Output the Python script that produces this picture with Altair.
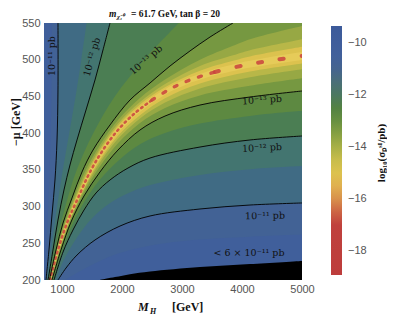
import altair as alt
import pandas as pd

# ---------------- values ----------------
# Level curves of log10(sigma_p^SI/pb) : M_H [GeV] and -mu [GeV]
# below the blind-spot ridge
LO_145_M = [810, 933, 1000, 1150, 1367, 1633, 1933, 2300, 2717, 3300, 4133, 5000]
LO_145_MU = [200, 237.0, 253.7, 286.8, 325.0, 363.4, 396.4, 424.4, 447.5, 467.6, 484.0, 495.0]
LO_140_M = [815, 933, 1000, 1150, 1367, 1633, 1933, 2300, 2717, 3300, 4133, 5000]
LO_140_MU = [200, 234.9, 251.8, 285.2, 322.8, 360.0, 392.3, 420.1, 441.6, 460.9, 476.2, 487.1]
LO_135_M = [822, 933, 1000, 1150, 1367, 1633, 1933, 2300, 2717, 3300, 4133, 5000]
LO_135_MU = [200, 231.9, 249.0, 282.7, 319.5, 354.9, 386.3, 413.9, 434.4, 451.4, 464.4, 474.6]
LO_130_M = [833, 983, 1150, 1367, 1633, 1933, 2300, 2717, 3300, 4133, 5000]
LO_130_MU = [200, 240.9, 279.0, 314.4, 347.1, 377.0, 404.3, 423.3, 438.3, 449.2, 457.4]
LO_125_M = [850, 1000, 1150, 1367, 1633, 1933, 2300, 2717, 3300, 4133, 5000]
LO_125_MU = [200, 240.0, 271.6, 306.0, 336.7, 362.2, 384.8, 400.1, 413.1, 423.5, 430.4]
LO_120_M = [867, 1017, 1183, 1367, 1567, 1800, 2100, 2467, 3300, 4133, 5000]
LO_120_MU = [200, 238.1, 268.1, 295.3, 318.5, 336.2, 352.5, 366.1, 381.1, 390.7, 396.1]
LO_115_M = [900, 1000, 1150, 1367, 1633, 1933, 2300, 2717, 3300, 4133, 5000]
LO_115_MU = [200, 222.2, 245.1, 271.3, 294.2, 311.3, 325.1, 334.3, 343.1, 350.8, 355.1]
LO_110_M = [933, 1067, 1250, 1550, 1967, 2467, 3300, 4133, 5000]
LO_110_MU = [200, 216.3, 234.0, 254.5, 273.5, 287.2, 296.7, 302.1, 304.9]
LO_105_M = [1050, 1150, 1367, 1633, 1933, 2300, 2717, 3300, 4133, 5000]
LO_105_MU = [200, 205, 215, 226, 236, 244, 250, 255, 259, 262]

# above the ridge, close to it
UP_145_M = [700, 798, 933, 1000, 1150, 1367, 1633, 1933, 2300, 2717, 3300, 3850, 4133, 5000]
UP_145_MU = [200, 200, 243.9, 261.7, 295.2, 336.1, 376.2, 410.2, 439.0, 462.5, 485.0, 498.5, 504.5, 517.5]
UP_140_M = [700, 797, 933, 1000, 1150, 1367, 1633, 1933, 2300, 2717, 3300, 3850, 4133, 5000]
UP_140_MU = [200, 200, 245.4, 263.9, 297.8, 339.6, 379.3, 413.3, 442.5, 467.0, 491.5, 506.0, 513.0, 528.0]
UP_135_M = [700, 795, 933, 1000, 1150, 1367, 1633, 1933, 2300, 2717, 3300, 3850, 4133, 5000]
UP_135_MU = [200, 200, 247.7, 267.2, 301.7, 344.7, 383.9, 417.8, 448.0, 473.0, 500.0, 519.0, 528.0, 546.0]

# upper-left side (steep curves)
UP_130_M = [792, 900, 1017, 1167, 1333, 1517, 1800, 2133, 2467, 2800, 3133, 3467, 3850]
UP_130_MU = [200, 240.9, 277.6, 311.7, 347.1, 377.0, 411.1, 445.1, 468.3, 491.4, 511.9, 530.9, 550]
UP_125_M = [780, 902, 1055, 1247, 1521, 1880, 2368, 2948]
UP_125_MU = [200, 250, 300, 350, 400, 450, 500, 550]
UP_120_M = [767, 850, 933, 1033, 1133, 1250, 1400, 1550, 1683, 1800]
UP_120_MU = [200, 240.9, 281.7, 322.6, 356.6, 390.7, 431.5, 472.4, 513.2, 550]
UP_115_M = [750, 834, 918, 1014, 1120, 1226, 1322, 1410]
UP_115_MU = [200, 250, 300, 350, 400, 450, 500, 550]
UP_110_M = [733, 783, 833, 883, 917, 933, 933]
UP_110_MU = [200, 240.9, 288.5, 336.2, 390.7, 458.8, 550]
UP_105_M = [712, 742, 770, 795, 812, 822, 828, 830]
UP_105_MU = [200, 250, 300, 350, 400, 450, 500, 550]

RIDGE_LEVEL = -15.0

# blind-spot ridge
RIDGE_M = [800, 933, 1083, 1267, 1467, 1683, 1933, 2217, 2500, 2800, 3133, 3550, 4050, 4550, 5000]
RIDGE_MU = [200, 240.9, 277.6, 311.7, 347.1, 377.0, 404.3, 427.4, 445.1, 460.1, 472.4, 483.3, 492.8, 499.6, 505.1]

# excluded region boundary (< 6 x 10^-11 pb)
EXCL_M = [1633, 1883, 2133, 2467, 3300, 4133, 5000]
EXCL_MU = [200, 204, 208, 211.6, 217.7, 221.8, 226]

LABELS_TEXT = ["10\u207b\u00b9\u00b9 pb", "10\u207b\u00b9\u00b2 pb", "10\u207b\u00b9\u00b3 pb",
               "10\u207b\u00b9\u00b3 pb", "10\u207b\u00b9\u00b2 pb", "10\u207b\u00b9\u00b9 pb",
               "< 6 \u00d7 10\u207b\u00b9\u00b9 pb"]
LABELS_M = [833, 1500, 2400, 4333, 4333, 4383, 4117]
LABELS_MU = [505, 503.7, 499.6, 445, 379.8, 287.2, 236.8]
LABELS_ANGLE = [270, 286, 319, 356, 357, 359, 0]

X_TICKS = [1000, 2000, 3000, 4000, 5000]
Y_TICKS = [200, 250, 300, 350, 400, 450, 500, 550]
CB_TICKS = [-10, -12, -14, -16, -18]

# colour map (approximate Mathematica DarkRainbow as seen in the bar)
STOPS = [-18.92, -17.0, -16.5, -16.0, -15.5, -15.0, -14.5, -14.0, -13.5, -13.0, -12.5,
         -12.0, -11.5, -11.0, -10.5, -9.35]
COLORS = ['#bd3d3c', '#c0413d', '#cc6444', '#d8904b', '#e0b050', '#dcc24e', '#c8bd4b',
          '#a8b046', '#86a042', '#679040', '#538242', '#4b7860', '#4a6f78', '#45648f',
          '#41609b', '#3c5a9a']

# ---------------- chart ----------------
xs = alt.Scale(domain=[700, 5000], nice=False, zero=False)
ys = alt.Scale(domain=[200, 550], nice=False, zero=False)
xaxis = alt.Axis(values=X_TICKS, format='d', title=None, ticks=False, domain=False, grid=False,
                 labelFlush=False, labelFont='Liberation Sans', labelFontSize=11,
                 labelColor='#555555', labelPadding=3)
yaxis = alt.Axis(values=Y_TICKS, format='d', title=None, ticks=False, domain=False, grid=False,
                 labelFlush=False, labelFont='Liberation Sans', labelFontSize=11,
                 labelColor='#555555', labelPadding=4)
X = alt.X('M:Q', scale=xs, axis=xaxis)
Y = alt.Y('mu:Q', scale=ys, axis=yaxis)
cscale = alt.Scale(domain=STOPS, range=COLORS, type='linear', clamp=True)
legend = alt.Legend(type='gradient', orient='none', legendX=287, legendY=3, direction='vertical',
                    gradientLength=249, gradientThickness=11, title=None, values=CB_TICKS,
                    labelFont='Liberation Sans', labelFontSize=11, labelColor='#555555',
                    labelOffset=6, gradientStrokeWidth=0, labelOverlap=False)
C = alt.Color('v:Q', scale=cscale, legend=legend)

bg = alt.Chart(pd.DataFrame(dict(M=[700], M2=[5000], mu=[200], mu2=[550], v=[RIDGE_LEVEL]))).mark_rect(
).encode(x=X, x2='M2:Q', y=Y, y2='mu2:Q', color=C)

levels = [
    (-14.5, LO_145_M, LO_145_MU, UP_145_M, UP_145_MU, 'v'),
    (-14.0, LO_140_M, LO_140_MU, UP_140_M, UP_140_MU, 'v'),
    (-13.5, LO_135_M, LO_135_MU, UP_135_M, UP_135_MU, 'v'),
    (-13.0, LO_130_M, LO_130_MU, UP_130_M, UP_130_MU, 'h'),
    (-12.5, LO_125_M, LO_125_MU, UP_125_M, UP_125_MU, 'h'),
    (-12.0, LO_120_M, LO_120_MU, UP_120_M, UP_120_MU, 'h'),
    (-11.5, LO_115_M, LO_115_MU, UP_115_M, UP_115_MU, 'h'),
    (-11.0, LO_110_M, LO_110_MU, UP_110_M, UP_110_MU, 'h'),
    (-10.5, LO_105_M, LO_105_MU, UP_105_M, UP_105_MU, 'h'),
]

band_layers = []
for lev, lm, lmu, um, umu, kind in levels:
    val = lev + 0.25
    lo = pd.DataFrame(dict(M=lm, mu=lmu, v=val))
    band_layers.append(alt.Chart(lo).mark_area(interpolate='catmull-rom', clip=True, orient='vertical')
                       .encode(x=X, y=Y, y2=alt.datum(200), color=C))
    up = pd.DataFrame(dict(M=um, mu=umu, v=val))
    if kind == 'v':
        band_layers.append(alt.Chart(up).mark_area(interpolate='catmull-rom', clip=True, orient='vertical')
                           .encode(x=X, y=Y, y2=alt.datum(550), color=C))
    else:
        band_layers.append(alt.Chart(up).mark_area(interpolate='catmull-rom', clip=True, orient='horizontal')
                           .encode(x=X, x2=alt.datum(700), y=Y, color=C))

ridge = pd.DataFrame(dict(M=RIDGE_M, mu=RIDGE_MU, idx=list(range(len(RIDGE_M)))))
glow = alt.Chart(ridge).mark_trail(color='#ecd060', opacity=0.6, clip=True, interpolate='catmull-rom').encode(
    x=X, y=Y, order='idx:Q',
    size=alt.Size('M:Q', scale=alt.Scale(domain=[700, 5000], range=[2, 8]), legend=None))


def red_seg(lo, hi, dash, w):
    return alt.Chart(ridge).transform_filter(
        (alt.datum.M >= lo) & (alt.datum.M <= hi)).mark_line(
        color='#c9433e', strokeWidth=w, strokeDash=dash, opacity=0.85, clip=True,
        interpolate='catmull-rom', strokeCap='round').encode(x=X, y=Y, order='idx:Q')


reds = [red_seg(700, 2500, [1.5, 4], 2.6), red_seg(2500, 3550, [3, 10], 3.4), red_seg(3550, 5000, [4, 18], 4.0)]

contour_sets = [("11L", UP_110_M, UP_110_MU), ("12L", UP_120_M, UP_120_MU), ("13U", UP_130_M, UP_130_MU),
                ("13D", LO_130_M, LO_130_MU), ("12D", LO_120_M, LO_120_MU), ("11D", LO_110_M, LO_110_MU)]
crows = []
for name, ms, mus in contour_sets:
    for k, (m, u) in enumerate(zip(ms, mus)):
        crows.append(dict(name=name, idx=k, M=m, mu=u))
contours = pd.DataFrame(crows)
lines = alt.Chart(contours).mark_line(color='black', strokeWidth=0.9, clip=True,
                                      interpolate='catmull-rom').encode(
    x=X, y=Y, detail='name:N', order='idx:Q')

excl = pd.DataFrame(dict(M=EXCL_M, mu=EXCL_MU))
black = alt.Chart(excl).mark_area(color='black', clip=True, interpolate='catmull-rom').encode(
    x=X, y=Y, y2=alt.datum(200))

label_layers = []
for t, m, u, a in zip(LABELS_TEXT, LABELS_M, LABELS_MU, LABELS_ANGLE):
    d = pd.DataFrame(dict(t=[t], M=[m], mu=[u]))
    label_layers.append(alt.Chart(d).mark_text(font='DejaVu Serif', fontSize=9.5, color='#111111',
                                               angle=a, align='center', baseline='middle').encode(
        x=X, y=Y, text='t:N'))


def txt(s, px, py, size, angle=0, style='normal', weight='bold', align='left', baseline='alphabetic',
        font='DejaVu Serif', color='#111111'):
    d = pd.DataFrame(dict(t=[s]))
    return alt.Chart(d).mark_text(font=font, fontSize=size, fontStyle=style, fontWeight=weight,
                                  angle=angle, align=align, baseline=baseline, color=color).encode(
        text='t:N', x=alt.value(px - 44), y=alt.value(py - 23))


texts = [
    txt("m", 109, 17, 9.5, style='italic', font='Liberation Serif'),
    txt("\u03c7\u0303\u2081\u2070", 117, 19, 6.5, style='italic', font='Liberation Serif'),
    txt("= 61.7 GeV,  tan \u03b2 = 20", 131, 17, 9.5, font='Liberation Serif'),
    txt("M", 138, 311, 12, style='italic', font='Liberation Serif'),
    txt("H", 150, 313.5, 8, style='italic', font='Liberation Serif'),
    txt("[GeV]", 172, 311, 12, font='Liberation Serif'),
    txt("\u2212\u03bc   [GeV]", 16, 122, 12, angle=270, align='center', baseline='middle',
        font='Liberation Serif'),
    txt("log\u2081\u2080(\u03c3\u209a\u02e2\u1d35/pb)", 382, 153, 11, angle=270, align='center',
        baseline='middle', font='Liberation Serif'),
]

chart = alt.layer(bg, *band_layers, glow, *reds, lines, black, *label_layers, *texts).properties(
    width=258, height=257,
    autosize=alt.AutoSizeParams(type='none'),
    padding={'left': 36, 'top': 15, 'right': 85, 'bottom': 35},
).configure_view(strokeWidth=0)

chart.save("out.html", embed_options={"renderer": "svg", "actions": False})
